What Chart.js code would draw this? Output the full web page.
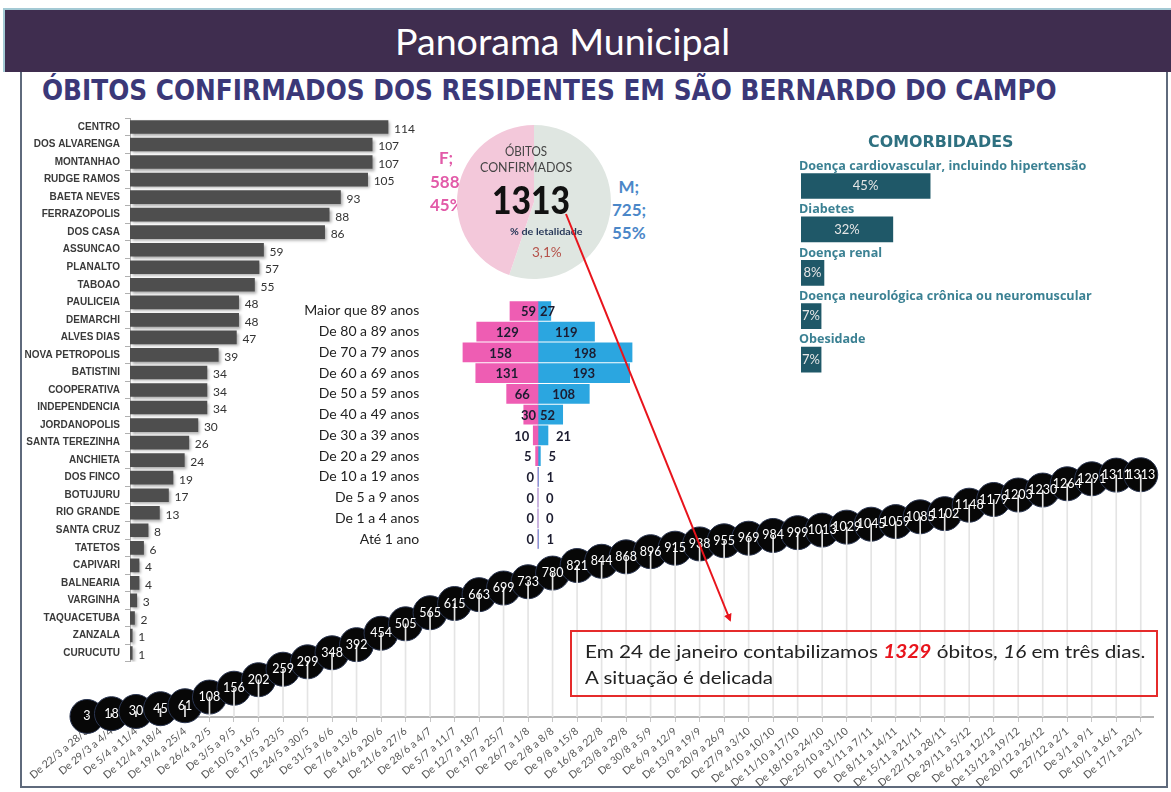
<!DOCTYPE html>
<html><head><meta charset="utf-8">
<script src="https://cdn.jsdelivr.net/npm/chart.js@4.4.1/dist/chart.umd.min.js"></script>
<style>
html,body{margin:0;padding:0;background:#fff;}
body{width:1171px;height:792px;position:relative;overflow:hidden;font-family:Lato,'Open Sans',sans-serif;}
.abs{position:absolute;white-space:nowrap;line-height:1;}
canvas{position:absolute;}
#band{position:absolute;left:3px;top:8px;width:1168px;height:64px;background:#3f2d4f;border-top:2px solid #a3c9d4;border-left:2px solid #a3c9d4;box-sizing:border-box;}
#frame{position:absolute;left:20px;top:72px;width:1148px;height:716px;border:2px solid #5f6a7c;border-top:none;box-sizing:border-box;}
#box{position:absolute;left:570px;top:630px;width:588px;height:67px;border:2px solid #e52b2b;box-sizing:border-box;z-index:6;}
#comTitle{font-family:"DejaVu Sans",sans-serif;}
</style></head>
<body>
<div id="band"></div>
<div id="frame"></div>
<div class="abs" id="title" style="color:#fff;font-size:36px;font-family:Lato;z-index:3">Panorama Municipal</div>
<div class="abs" id="subtitle" style="color:#3b3878;font-size:29px;font-weight:bold;font-family:'Liberation Sans Narrow','DejaVu Sans Condensed','Liberation Sans',sans-serif;">ÓBITOS CONFIRMADOS DOS RESIDENTES EM SÃO BERNARDO DO CAMPO</div>

<canvas id="cLine" width="1171" height="352" style="left:0;top:440px;z-index:1"></canvas>
<canvas id="cBairros" width="440" height="565" style="left:0;top:110px;z-index:2"></canvas>
<canvas id="cIdade" width="360" height="265" style="left:290px;top:295px;z-index:2"></canvas>
<canvas id="cComorb" width="390" height="240" style="left:780px;top:150px;z-index:2"></canvas>

<div class="abs" id="fF" style="color:#e25aa8;font-size:17px;font-weight:bold;z-index:2">F;</div>
<div class="abs" id="f588" style="color:#e25aa8;font-size:17px;font-weight:bold;z-index:2">588</div>
<div class="abs" id="f45" style="color:#e25aa8;font-size:17px;font-weight:bold;z-index:2">45%</div>
<div class="abs" id="mM" style="color:#4b87c8;font-size:17px;font-weight:bold;z-index:2">M;</div>
<div class="abs" id="m725" style="color:#4b87c8;font-size:17px;font-weight:bold;z-index:2">725;</div>
<div class="abs" id="m55" style="color:#4b87c8;font-size:17px;font-weight:bold;z-index:2">55%</div>
<canvas id="cPie" width="160" height="160" style="left:454px;top:122px;z-index:3"></canvas>
<div class="abs" id="pObitos" style="color:#444;font-size:13px;z-index:4">ÓBITOS</div>
<div class="abs" id="pConf" style="color:#444;font-size:13px;z-index:4">CONFIRMADOS</div>
<div class="abs" id="pTotal" style="color:#111;font-size:38px;font-weight:900;z-index:4">1313</div>
<div class="abs" id="pLet" style="color:#2a3a5a;font-size:9px;font-weight:bold;z-index:4">% de letalidade</div>
<div class="abs" id="pPct" style="color:#b5524a;font-size:14px;z-index:4">3,1%</div>

<div class="abs" id="comTitle" style="color:#2e7080;font-size:15px;font-weight:bold;z-index:3">COMORBIDADES</div>

<div id="box"></div>
<div class="abs" id="msg1" style="color:#222;font-size:18px;z-index:7">Em 24 de janeiro contabilizamos <b><i style="color:#e8141c">1329</i></b> óbitos, <i>16</i> em três dias.</div>
<div class="abs" id="msg2" style="color:#222;font-size:18px;z-index:7">A situação é delicada</div>

<svg width="1171" height="792" style="position:absolute;left:0;top:0;z-index:8;pointer-events:none">
<defs><marker id="ah" markerWidth="8" markerHeight="8" refX="6" refY="4" orient="auto" markerUnits="userSpaceOnUse"><path d="M0,0 L8,4 L0,8 z" fill="#e8141c"/></marker></defs>
<line x1="566" y1="214" x2="730" y2="620" stroke="#e8141c" stroke-width="2" marker-end="url(#ah)"/>
</svg>

<script>
// ---------- DATA ----------
const weekLabels = ['De 22/3 a 28/3','De 29/3 a 4/4','De 5/4 a 11/4','De 12/4 a 18/4','De 19/4 a 25/4','De 26/4 a 2/5','De 3/5 a 9/5','De 10/5 a 16/5','De 17/5 a 23/5','De 24/5 a 30/5','De 31/5 a 6/6','De 7/6 a 13/6','De 14/6 a 20/6','De 21/6 a 27/6','De 28/6 a 4/7','De 5/7 a 11/7','De 12/7 a 18/7','De 19/7 a 25/7','De 26/7 a 1/8','De 2/8 a 8/8','De 9/8 a 15/8','De 16/8 a 22/8','De 23/8 a 29/8','De 30/8 a 5/9','De 6/9 a 12/9','De 13/9 a 19/9','De 20/9 a 26/9','De 27/9 a 3/10','De 4/10 a 10/10','De 11/10 a 17/10','De 18/10 a 24/10','De 25/10 a 31/10','De 1/11 a 7/11','De 8/11 a 14/11','De 15/11 a 21/11','De 22/11 a 28/11','De 29/11 a 5/12','De 6/12 a 12/12','De 13/12 a 19/12','De 20/12 a 26/12','De 27/12 a 2/1','De 3/1 a 9/1','De 10/1 a 16/1','De 17/1 a 23/1'];
const cumulativeDeaths = [3,18,30,45,61,108,156,202,259,299,348,392,454,505,565,615,663,699,733,780,821,844,868,896,915,938,955,969,984,999,1013,1029,1045,1059,1085,1102,1148,1179,1203,1230,1264,1291,1311,1313];

const bairros = ['CENTRO','DOS ALVARENGA','MONTANHAO','RUDGE RAMOS','BAETA NEVES','FERRAZOPOLIS','DOS CASA','ASSUNCAO','PLANALTO','TABOAO','PAULICEIA','DEMARCHI','ALVES DIAS','NOVA PETROPOLIS','BATISTINI','COOPERATIVA','INDEPENDENCIA','JORDANOPOLIS','SANTA TEREZINHA','ANCHIETA','DOS FINCO','BOTUJURU','RIO GRANDE','SANTA CRUZ','TATETOS','CAPIVARI','BALNEARIA','VARGINHA','TAQUACETUBA','ZANZALA','CURUCUTU'];
const obitosBairro = [114,107,107,105,93,88,86,59,57,55,48,48,47,39,34,34,34,30,26,24,19,17,13,8,6,4,4,3,2,1,1];

const faixasEtarias = ['Maior que 89 anos','De 80 a 89 anos','De 70 a 79 anos','De 60 a 69 anos','De 50 a 59 anos','De 40 a 49 anos','De 30 a 39 anos','De 20 a 29 anos','De 10 a 19 anos','De 5 a 9 anos','De 1 a 4 anos','Até 1 ano'];
const obitosFeminino = [59,129,158,131,66,30,10,5,0,0,0,0];
const obitosMasculino = [27,119,198,193,108,52,21,5,1,0,0,1];

const sexos = ['M','F'];
const obitosSexo = [725,588];

const comorbidades = ['Doença cardiovascular, incluindo hipertensão','Diabetes','Doença renal','Doença neurológica crônica ou neuromuscular','Obesidade'];
const comorbPct = [45,32,8,7,7];

// ---------- helpers ----------
function fit(id, x, cy, w, align){
  const el=document.getElementById(id);
  const ow=el.offsetWidth, oh=el.offsetHeight;
  const s = w ? w/ow : 1; const ww = ow*s;
  const left = align==='center' ? x-ww/2 : (align==='right' ? x-ww : x);
  el.style.left=left+'px'; el.style.top=(cy-oh/2)+'px';
  el.style.transformOrigin='0 50%'; el.style.transform='scaleX('+s+')';
}
fit('title',562,41,335,'center');
fit('subtitle',42,90,1015,'left');
fit('fF',446,157,null,'center');
fit('f588',430,181,null,'left');
fit('f45',430,204,null,'left');
fit('mM',629,186,null,'center');
fit('m725',646,209,null,'right');
fit('m55',646,232,null,'right');
fit('pObitos',526,151,42,'center');
fit('pConf',526,167,92,'center');
fit('pTotal',531,199,78,'center');
fit('pLet',546,231,73,'center');
fit('pPct',547,252,30,'center');
fit('comTitle',941,142,146,'center');
fit('msg1',585,651,560,'left');
fit('msg2',585,677,188,'left');

const zeroPad = s => { s.paddingLeft=0; s.paddingRight=0; s.paddingTop=0; s.paddingBottom=0; };
const base = {responsive:false, animation:false, events:[], plugins:{legend:{display:false}, tooltip:{enabled:false}}};

// ---------- cumulative line ----------
new Chart(document.getElementById('cLine'), {
  type:'line',
  data:{labels:weekLabels, datasets:[
    {type:'bar', data:cumulativeDeaths, backgroundColor:'#e4e4e4', barThickness:1, order:0},
    {type:'line', data:cumulativeDeaths, showLine:false, pointRadius:17, pointHoverRadius:17, pointBackgroundColor:'#070707', pointBorderColor:'#2a3550', pointBorderWidth:1, order:1, clip:false}
  ]},
  options:Object.assign({}, base, {
    layout:{padding:{left:74.7,right:10.5,top:18.7,bottom:0}},
    scales:{
      x:{offset:true, grid:{drawOnChartArea:false, drawTicks:true, tickLength:5, color:'#c4c4c4', offset:false}, border:{display:true,color:'#b4b4b4',width:2},
         ticks:{autoSkip:false,maxRotation:40,minRotation:40,padding:3,color:'#555',font:{family:'Lato',size:10.5}},
         afterFit(s){ zeroPad(s); s.height=75; }},
      y:{display:false,min:0,max:1400}
    }
  }),
  plugins:[{id:'circleLabels', afterDatasetsDraw(chart){
    const meta=chart.getDatasetMeta(1), ctx=chart.ctx, d=chart.data.datasets[1].data;
    ctx.save(); ctx.fillStyle='#fff'; ctx.font='12.5px Lato'; ctx.textAlign='center'; ctx.textBaseline='middle';
    meta.data.forEach((p,i)=>ctx.fillText(String(d[i]), p.x, p.y));
    ctx.restore();
  }}]
});

// ---------- bairros ----------
new Chart(document.getElementById('cBairros'), {
  type:'bar',
  data:{labels:bairros, datasets:[{data:obitosBairro, backgroundColor:'#4e4e4e', barThickness:13}]},
  options:Object.assign({}, base, {
    indexAxis:'y',
    layout:{padding:{left:0,right:38.4,top:8.2,bottom:13.2}},
    scales:{
      x:{display:false,min:0,max:120},
      y:{grid:{drawOnChartArea:false,tickLength:5,color:'#b0b0b0'}, border:{color:'#b0b0b0',width:1},
         ticks:{padding:5,color:'#3a3a3a',font:{family:'Liberation Sans',size:10,weight:'bold'}},
         afterFit(s){ zeroPad(s); s.width=130; }}
    }
  }),
  plugins:[{id:'barShadow',
    beforeDatasetsDraw(chart){ const c=chart.ctx; c.save(); c.shadowColor='rgba(0,0,0,0.35)'; c.shadowOffsetX=2; c.shadowOffsetY=2; c.shadowBlur=3; },
    afterDatasetsDraw(chart){ const c=chart.ctx; c.restore(); c.save();
      c.fillStyle='#333'; c.font='12px Lato'; c.textAlign='left'; c.textBaseline='middle';
      chart.getDatasetMeta(0).data.forEach((b,i)=>c.fillText(String(obitosBairro[i]), b.x+6, b.y+2));
      c.restore(); }
  }]
});

// ---------- idade ----------
new Chart(document.getElementById('cIdade'), {
  type:'bar',
  data:{labels:faixasEtarias, datasets:[
    {label:'F', data:obitosFeminino.map(v=>-v), backgroundColor:'#ee5db3', barThickness:19},
    {label:'M', data:obitosMasculino, backgroundColor:'#2ba6e0', barThickness:19}
  ]},
  options:Object.assign({}, base, {
    indexAxis:'y',
    layout:{padding:{left:0,right:7.5,top:5.6,bottom:10.6}},
    scales:{
      x:{display:false,stacked:true,min:-210,max:220},
      y:{stacked:true, grid:{display:false}, border:{display:false},
         ticks:{padding:11,color:'#222',font:{family:'Lato',size:14}},
         afterFit(s){ zeroPad(s); s.width=148.25; }}
    }
  }),
  plugins:[{id:'pyrLabels', afterDatasetsDraw(chart){
    const c=chart.ctx; c.save(); c.fillStyle='#1c1c30'; c.font='bold 13px Lato'; c.textBaseline='middle';
    [obitosFeminino, obitosMasculino].forEach((vals,di)=>{
      chart.getDatasetMeta(di).data.forEach((b,i)=>{
        const w=Math.abs(b.x-b.base); const t=String(vals[i]);
        if (w>=30){ c.textAlign='center'; c.fillText(t,(b.x+b.base)/2,b.y+1); }
        else if (w>=12){
          if (di===0){ c.textAlign='right'; c.fillText(t,b.base-2,b.y+1); }
          else { c.textAlign='left'; c.fillText(t,b.base+2,b.y+1); }
        }
        else if (di===0){ c.textAlign='right'; c.fillText(t,b.x-4,b.y+1); }
        else { c.textAlign='left'; c.fillText(t,b.x+8,b.y+1); }
      });
    });
    c.restore();
  }}]
});

// ---------- comorbidades ----------
new Chart(document.getElementById('cComorb'), {
  type:'bar',
  data:{labels:comorbidades, datasets:[{data:comorbPct, backgroundColor:'#1f5868', barThickness:25}]},
  options:Object.assign({}, base, {
    indexAxis:'y',
    layout:{padding:{left:21,right:82,top:14.3,bottom:8.7}},
    scales:{ x:{display:false,min:0,max:100}, y:{display:false} }
  }),
  plugins:[{id:'comLabels', afterDatasetsDraw(chart){
    const c=chart.ctx; c.save();
    chart.getDatasetMeta(0).data.forEach((b,i)=>{
      c.fillStyle='#3b8193'; c.font='bold 12.6px "Open Sans", "DejaVu Sans", sans-serif'; c.textAlign='left'; c.textBaseline='bottom';
      c.fillText(comorbidades[i], b.base-2, b.y-b.height/2-1);
      c.fillStyle='#e6e6e6'; c.font='13px Lato'; c.textAlign='center'; c.textBaseline='middle';
      c.fillText(comorbPct[i]+'%', (b.x+b.base)/2, b.y);
    });
    c.restore();
  }}]
});

// ---------- pie ----------
new Chart(document.getElementById('cPie'), {
  type:'pie',
  data:{labels:sexos, datasets:[{data:obitosSexo, backgroundColor:['#dfe6e1','#f3c8da'], borderWidth:0}]},
  options:Object.assign({}, base, {layout:{padding:3}})
});
</script>
</body></html>
